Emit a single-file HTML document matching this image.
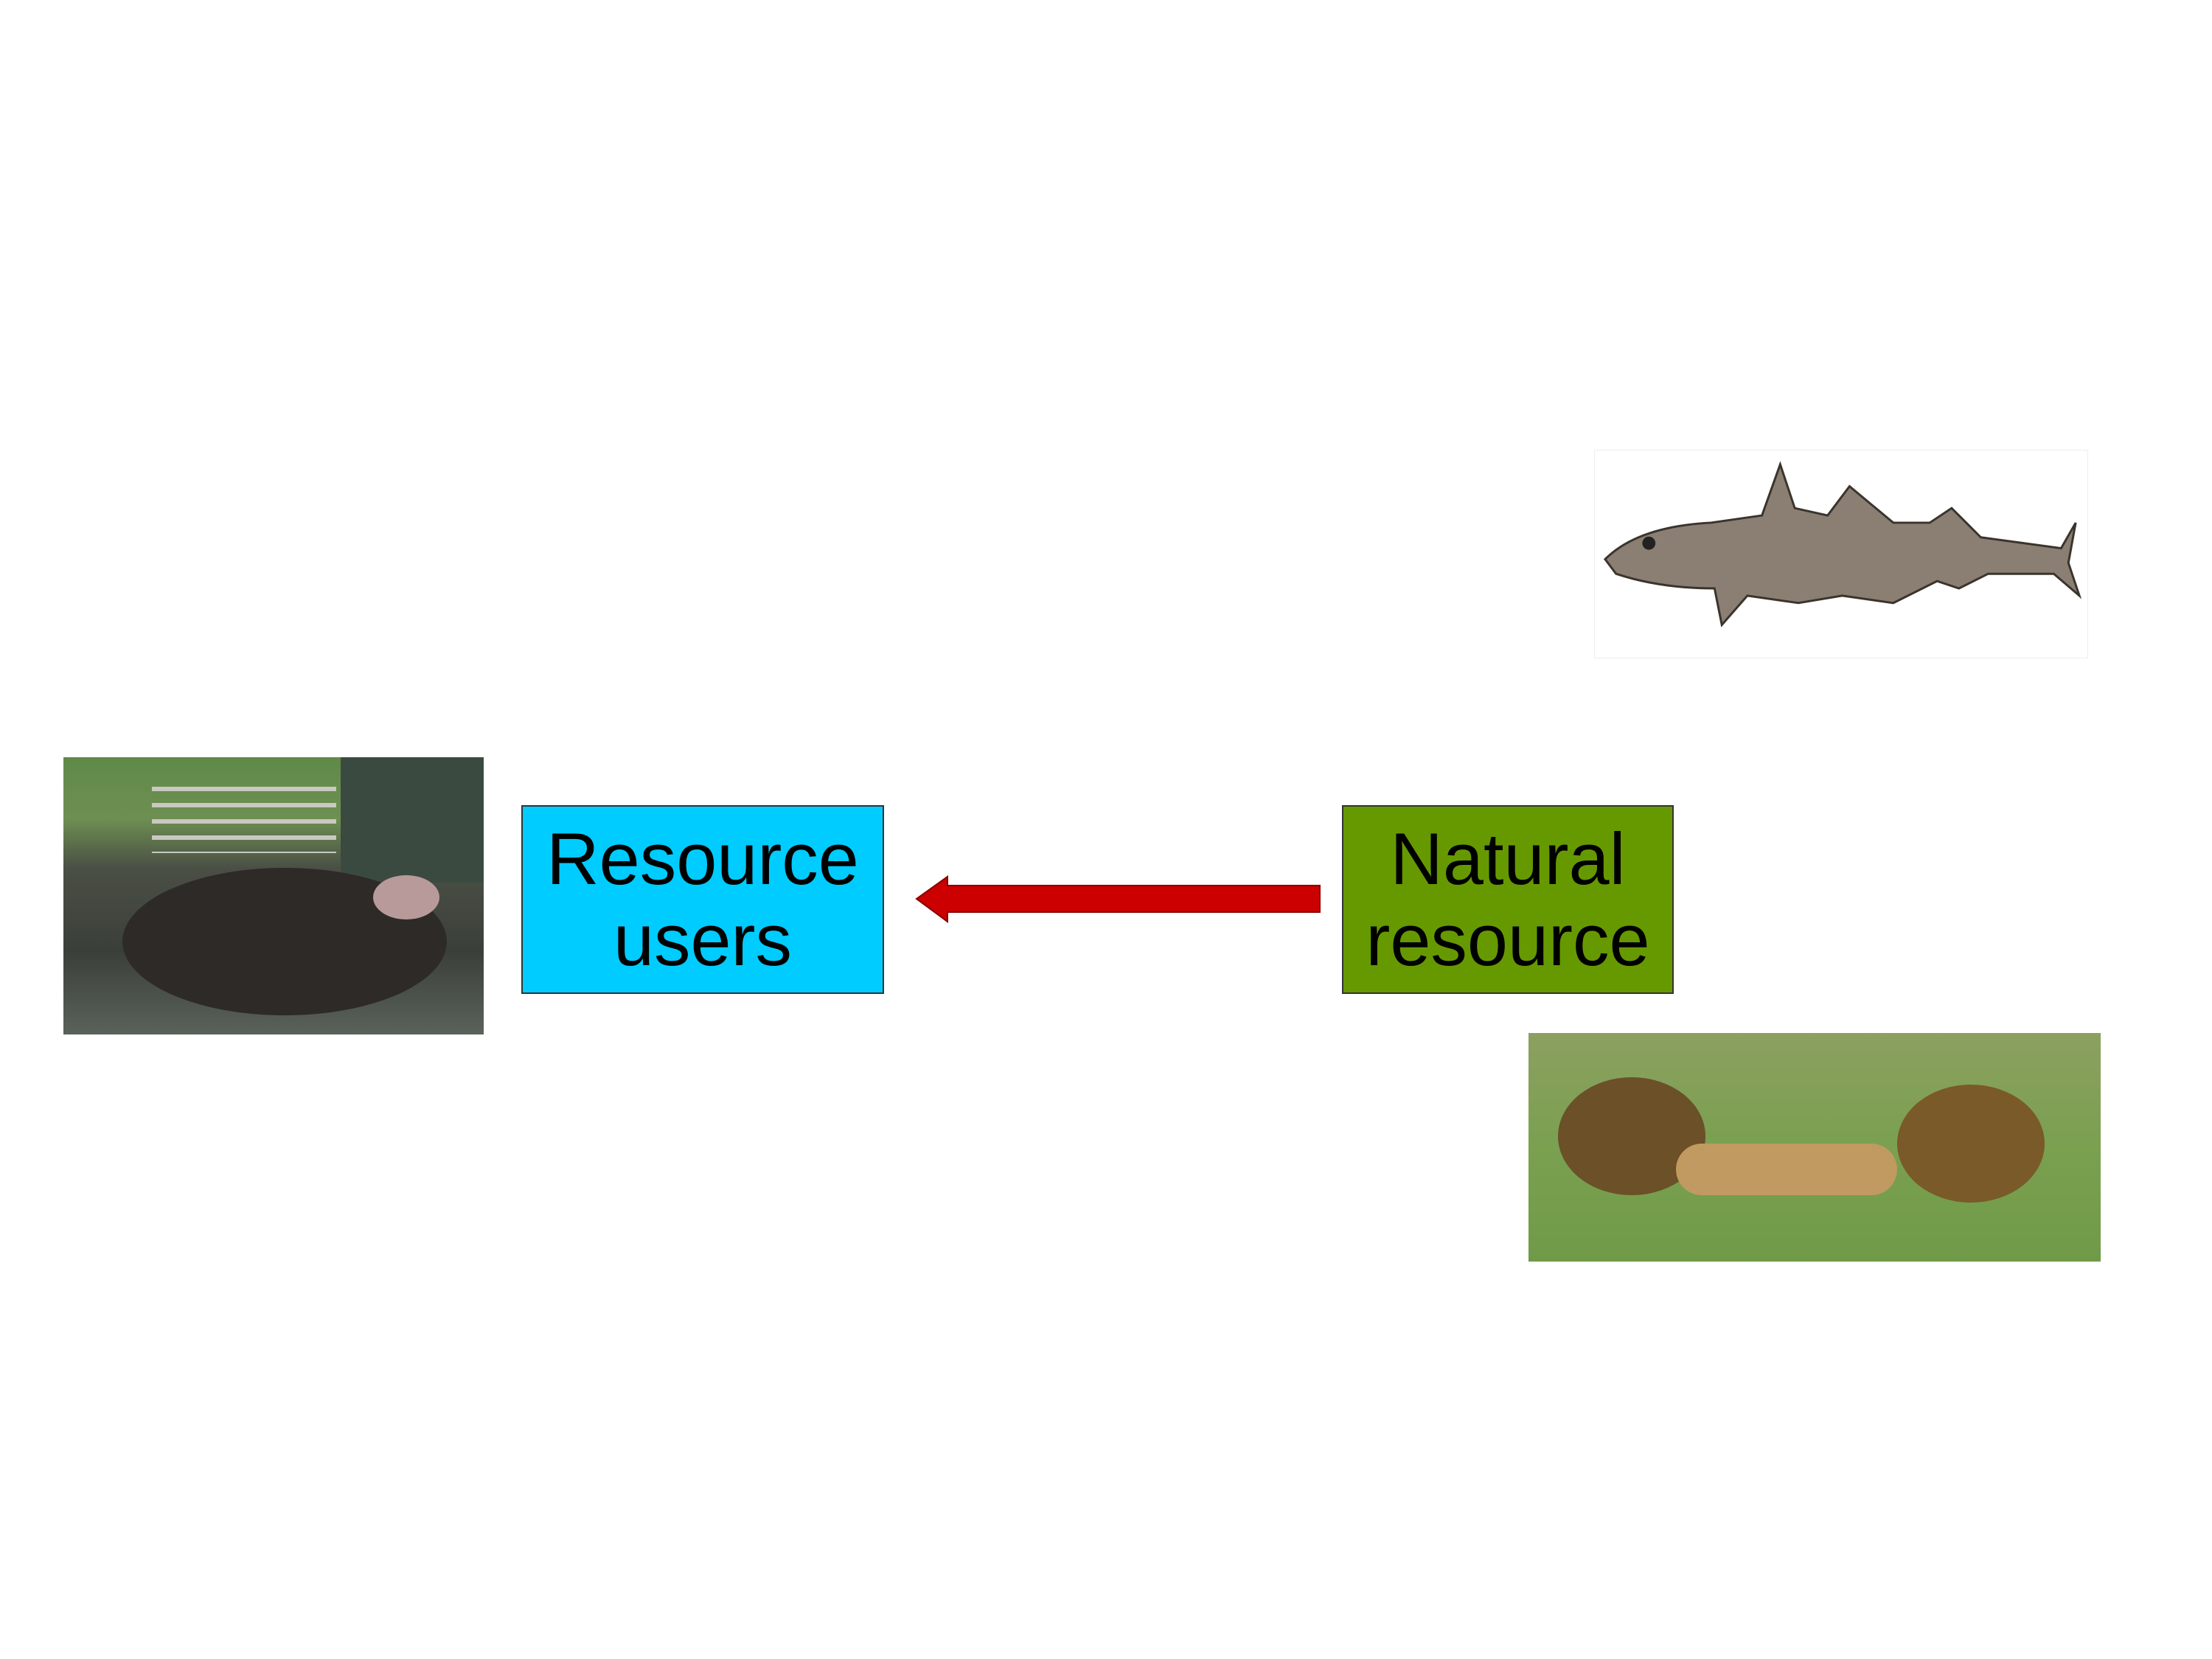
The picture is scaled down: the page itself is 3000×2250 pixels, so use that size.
<!DOCTYPE html>
<html><head><style>
html,body{margin:0;padding:0;background:#fff;width:3000px;height:2250px;overflow:hidden;position:relative;font-family:"Liberation Sans",sans-serif}
.box{position:absolute;display:flex;align-items:center;justify-content:center;text-align:center;font-size:99px;line-height:110px;color:#000;box-sizing:border-box;border:2px solid #333}
</style></head><body>
<div style="position:absolute;left:86px;top:1027px;width:570px;height:376px;overflow:hidden;background:linear-gradient(180deg,#5f8a48 0%,#6e8f52 22%,#4a4f45 40%,#3b3f3a 70%,#5a625a 100%)">
<div style="position:absolute;left:376px;top:0;width:194px;height:170px;background:#3a4a40"></div>
<div style="position:absolute;left:120px;top:40px;width:250px;height:90px;background:repeating-linear-gradient(180deg,#c9c9c0 0 6px,transparent 6px 22px)"></div>
<div style="position:absolute;left:80px;top:150px;width:440px;height:200px;border-radius:50%;background:#2e2a28"></div>
<div style="position:absolute;left:420px;top:160px;width:90px;height:60px;border-radius:50%;background:#b89a9a"></div>
</div>
<svg style="position:absolute;left:2162px;top:610px" width="670" height="283" viewBox="0 0 677 286">
<rect x="0.5" y="0.5" width="676" height="285" fill="#fff" stroke="#eee"/>
<path d="M15 150 Q60 105 160 100 L230 90 L255 20 L275 80 L320 90 L350 50 L410 100 L460 100 L490 80 L530 120 L640 135 L660 100 L650 155 L665 200 L630 170 L540 170 L500 190 L470 180 L410 210 L340 200 L280 210 L210 200 L175 240 L165 190 Q90 190 30 170 Z" fill="#8a7f72" stroke="#3a342c" stroke-width="3"/>
<circle cx="75" cy="128" r="9" fill="#222"/>
</svg>
<div style="position:absolute;left:2073px;top:1401px;width:776px;height:310px;overflow:hidden;background:linear-gradient(180deg,#8ca060 0%,#7aa050 50%,#6f9a48 100%)">
<div style="position:absolute;left:40px;top:60px;width:200px;height:160px;border-radius:50%;background:#6b5028"></div>
<div style="position:absolute;left:200px;top:150px;width:300px;height:70px;border-radius:40px;background:#c09a60"></div>
<div style="position:absolute;left:500px;top:70px;width:200px;height:160px;border-radius:50%;background:#7a5a28"></div>
</div>
<div class="box" style="left:707px;top:1092px;width:492px;height:256px;background:#00ccff">Resource<br>users</div>
<div class="box" style="left:1820px;top:1092px;width:450px;height:256px;background:#669900">Natural<br>resource</div>
<svg style="position:absolute;left:0;top:0" width="3000" height="2250">
<polygon points="1790,1201 1285,1201 1285,1189 1243,1219 1285,1250 1285,1237 1790,1237" fill="#cc0000" stroke="#800" stroke-width="2"/>
</svg>
</body></html>
